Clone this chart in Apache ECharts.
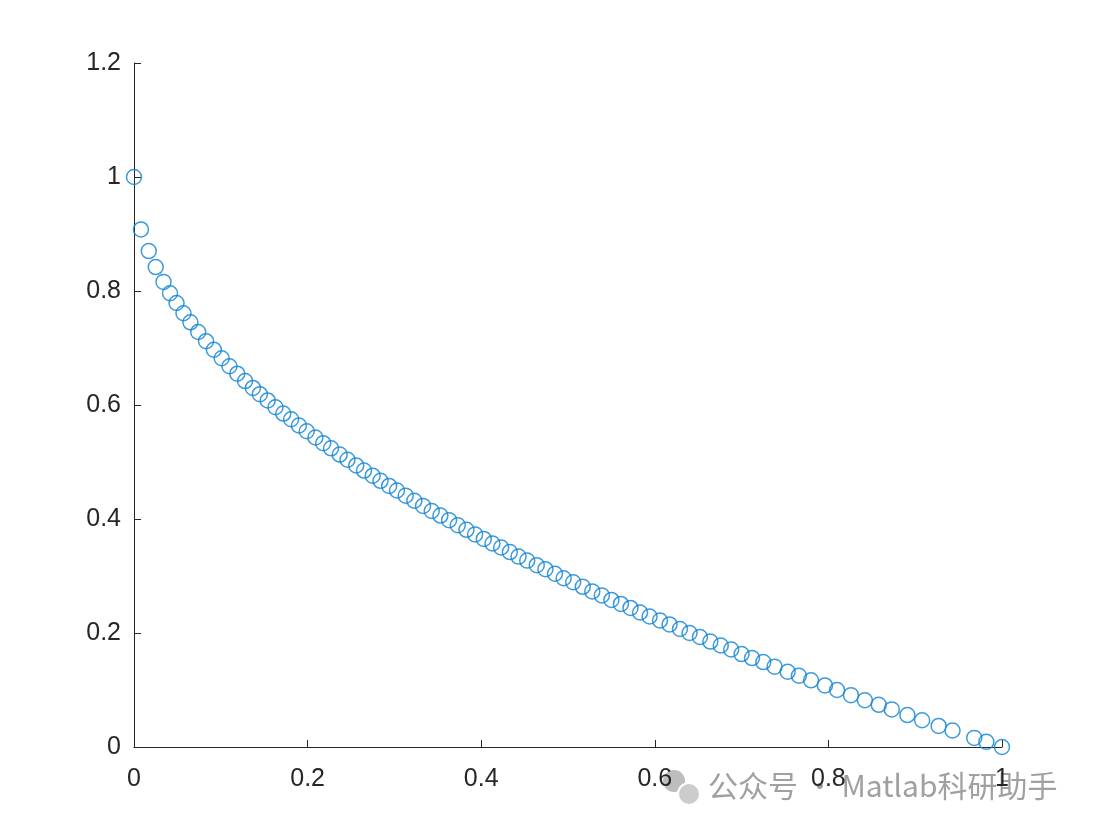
<!DOCTYPE html>
<html>
<head>
<meta charset="utf-8">
<script src="https://cdn.jsdelivr.net/npm/echarts@6/dist/echarts.min.js"></script>
<style>html,body{margin:0;padding:0;background:#fff;}#c{width:1097px;height:832px;}</style>
</head>
<body>
<div id="c"></div>
<script>
const xValues = [0, 0.008, 0.017, 0.025, 0.034, 0.0415, 0.049, 0.057, 0.065, 0.074, 0.083, 0.092, 0.101, 0.110, 0.119, 0.128, 0.137, 0.145,
  0.154, 0.163, 0.172, 0.181, 0.190, 0.199, 0.209, 0.218, 0.227, 0.237, 0.246, 0.256, 0.265, 0.275, 0.284, 0.294, 0.303,
  0.313, 0.323, 0.333, 0.343, 0.353, 0.363, 0.373, 0.383, 0.393, 0.403, 0.413, 0.423, 0.433, 0.443, 0.453, 0.464, 0.474,
  0.485, 0.495, 0.506, 0.517, 0.528, 0.539, 0.550, 0.561, 0.572, 0.583, 0.594, 0.606, 0.617, 0.629, 0.640, 0.652, 0.664,
  0.676, 0.688, 0.700, 0.712, 0.725, 0.738, 0.753, 0.766, 0.780, 0.796, 0.810, 0.826, 0.842, 0.858, 0.873, 0.891, 0.908,
  0.927, 0.943, 0.968, 0.982, 1.0];
const yValues = [1.000, 0.908, 0.870, 0.842, 0.816, 0.796, 0.779, 0.761, 0.745, 0.728, 0.712, 0.697, 0.682, 0.668, 0.655, 0.642, 0.630, 0.619,
  0.608, 0.596, 0.585, 0.575, 0.564, 0.554, 0.543, 0.533, 0.524, 0.513, 0.504, 0.494, 0.485, 0.476, 0.467, 0.458, 0.450,
  0.441, 0.432, 0.423, 0.414, 0.406, 0.398, 0.389, 0.381, 0.373, 0.365, 0.357, 0.350, 0.342, 0.334, 0.327, 0.319, 0.312,
  0.304, 0.296, 0.289, 0.281, 0.273, 0.266, 0.258, 0.251, 0.244, 0.236, 0.229, 0.222, 0.215, 0.207, 0.200, 0.193, 0.185,
  0.178, 0.171, 0.163, 0.156, 0.149, 0.141, 0.132, 0.125, 0.117, 0.108, 0.100, 0.091, 0.082, 0.074, 0.066, 0.056, 0.047,
  0.037, 0.029, 0.016, 0.009, 0.000];
const xTicks = [0, 0.2, 0.4, 0.6, 0.8, 1];
const yTicks = [0, 0.2, 0.4, 0.6, 0.8, 1, 1.2];
const watermark = '公众号 · Matlab科研助手';

const points = xValues.map((x, i) => [x, yValues[i]]);
const chart = echarts.init(document.getElementById('c'), null, {renderer: 'canvas'});
const axisCommon = {
  axisLine: {show: true, onZero: false, lineStyle: {color: '#262626', width: 1}},
  axisTick: {show: true, inside: true, length: 7, lineStyle: {color: '#262626', width: 1}},
  splitLine: {show: false},
  axisLabel: {color: '#262626', fontSize: 25, fontFamily: 'Liberation Sans, Arial, sans-serif'}
};
chart.setOption({
  animation: false,
  backgroundColor: '#ffffff',
  grid: {left: 134, right: 95, top: 63, bottom: 85, containLabel: false},
  xAxis: Object.assign({type: 'value', min: 0, max: 1, interval: 0.2}, axisCommon, {
    axisLabel: Object.assign({}, axisCommon.axisLabel, {margin: 20,
      formatter: v => { const t = xTicks.find(k => Math.abs(k - v) < 1e-9); return t === undefined ? '' : String(t); }})
  }),
  yAxis: Object.assign({type: 'value', min: 0, max: 1.2, interval: 0.2}, axisCommon, {
    axisLabel: Object.assign({}, axisCommon.axisLabel, {margin: 13,
      formatter: v => { const t = yTicks.find(k => Math.abs(k - v) < 1e-9); return t === undefined ? '' : String(t); }})
  }),
  series: [{
    type: 'scatter',
    data: points,
    symbol: 'circle',
    symbolSize: 15,
    clip: false,
    itemStyle: {color: 'rgba(0,0,0,0)', borderColor: '#0C82D3', borderWidth: 1.5}
  }],
  graphic: [
    {type: 'circle', shape: {cx: 674, cy: 781, r: 11}, style: {fill: '#bdbdbd'}},
    {type: 'circle', shape: {cx: 689, cy: 794, r: 11}, style: {fill: '#cccccc', stroke: '#ffffff', lineWidth: 2}},
    {type: 'text', left: 708, top: 771, style: {text: watermark, fill: '#a0a0a0', fontSize: 30, fontFamily: 'Noto Sans CJK SC, sans-serif'}}
  ]
});
</script>
</body>
</html>
